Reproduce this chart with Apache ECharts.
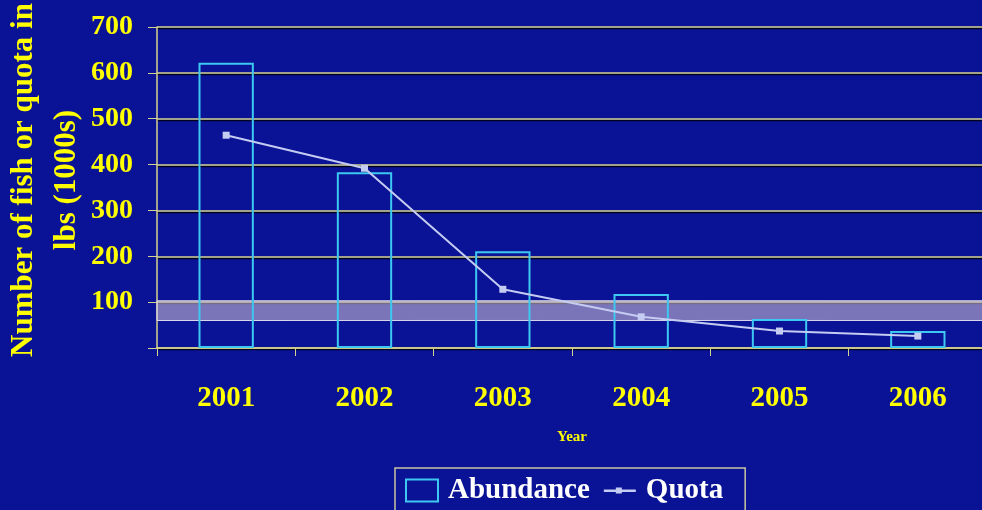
<!DOCTYPE html>
<html>
<head>
<meta charset="utf-8">
<script src="https://cdn.jsdelivr.net/npm/echarts@6/dist/echarts.min.js"></script>
<style>
html,body{margin:0;padding:0;background:#0a1296;}
#chart{width:982px;height:510px;}
</style>
</head>
<body>
<div id="chart"></div>
<script>
// 年份
var years = ['2001', '2002', '2003', '2004', '2005', '2006'];
// 丰度（柱）
var abundance = [622, 383, 211, 118, 63, 37];
// 配额（折线）
var quota = [464, 392, 128, 68, 37, 26];
// 半透明区间
var bandLow = 60, bandHigh = 103;
// 纵轴标题
var yTitle = 'Number of fish or quota in\nlbs (1000s)';

var serif = '"Liberation Serif", "DejaVu Serif", serif';
var yellow = '#ffff00';
var gridColor = '#d6d48c';

var myChart = echarts.init(document.getElementById('chart'));
var option = {
	backgroundColor: '#0a1296',
	animation: false,
	grid: {
		left: 157,
		right: -5,
		top: 27,
		bottom: 162,
		outerBoundsMode: 'none',
		containLabel: false
	},
	// 纵轴标题（两行，旋转）
	graphic: [{
		type: 'text',
		x: 45,
		y: 180,
		rotation: Math.PI / 2,
		style: {
			text: yTitle,
			fill: yellow,
			font: 'bold 31px ' + serif,
			lineHeight: 43,
			align: 'center',
			verticalAlign: 'middle'
		}
	}],
	legend: {
		left: 395,
		top: 468,
		padding: [8, 22, 10, 10],
		borderColor: '#c9c6a0',
		borderWidth: 1.5,
		itemGap: 14,
		itemWidth: 32,
		itemHeight: 22,
		textStyle: {
			color: '#ffffff',
			fontFamily: serif,
			fontWeight: 'bold',
			fontSize: 29,
			padding: [0, 0, 0, 5]
		},
		data: [
			{name: 'Abundance', icon: 'rect'},
			{name: 'Quota', icon: 'path://M0,0Z M0,10 L12,10 L12,8 L18,8 L18,10 L32,10 L32,12.5 L18,12.5 L18,14 L12,14 L12,12.5 L0,12.5 Z M32,22Z'}
		]
	},
	xAxis: {
		type: 'category',
		data: years,
		boundaryGap: true,
		name: 'Year',
		nameLocation: 'middle',
		nameGap: 82,
		nameTextStyle: {
			color: yellow,
			fontFamily: serif,
			fontWeight: 'bold',
			fontSize: 15
		},
		axisLine: {lineStyle: {color: gridColor, width: 1.5}},
		axisTick: {show: true, length: 8, lineStyle: {color: gridColor}},
		axisLabel: {
			color: yellow,
			fontFamily: serif,
			fontWeight: 'bold',
			fontSize: 29,
			margin: 36
		}
	},
	yAxis: {
		type: 'value',
		min: 0,
		max: 700,
		interval: 100,
		axisLine: {show: true, lineStyle: {color: gridColor, width: 1.5}},
		axisTick: {show: true, length: 9, lineStyle: {color: gridColor}},
		splitLine: {
			show: true,
			lineStyle: {
				color: gridColor,
				width: 1.5,
				shadowColor: 'rgba(0,0,0,0.8)',
				shadowOffsetY: 1.5
			}
		},
		axisLabel: {
			color: yellow,
			fontFamily: serif,
			fontWeight: 'bold',
			fontSize: 28,
			margin: 24,
			formatter: function (v) {
				return v === 0 ? '' : v;
			}
		}
	},
	series: [
		{
			name: 'Abundance',
			type: 'bar',
			data: abundance,
			barWidth: '40%',
			itemStyle: {
				color: 'rgba(0,0,0,0)',
				borderColor: '#3cc8f0',
				borderWidth: 2
			},
			markArea: {
				silent: true,
				itemStyle: {
					color: 'rgba(196,182,206,0.6)',
					borderColor: '#dcd8ec',
					borderWidth: 1
				},
				data: [[{yAxis: bandHigh}, {yAxis: bandLow}]]
			},
			z: 2
		},
		{
			name: 'Quota',
			type: 'line',
			data: quota,
			symbol: 'rect',
			symbolSize: 7,
			lineStyle: {color: '#c4ccf2', width: 2},
			itemStyle: {color: '#c4ccf2'},
			z: 4
		}
	]
};
myChart.setOption(option);
</script>
</body>
</html>
